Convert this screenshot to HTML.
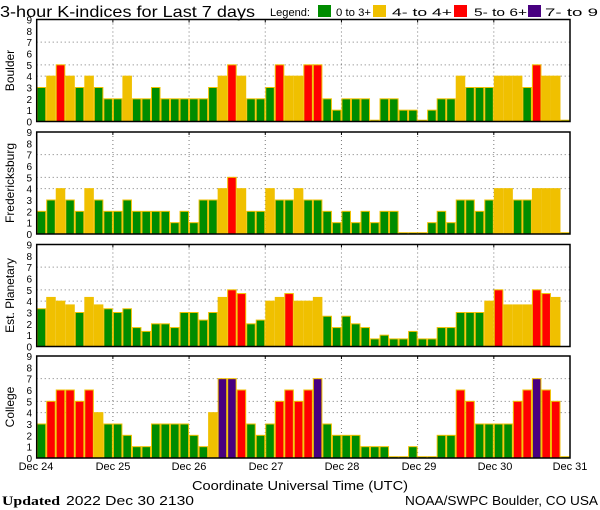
<!DOCTYPE html>
<html><head><meta charset="utf-8"><style>
html,body{margin:0;padding:0;background:#fff;}
svg{display:block;font-family:"Liberation Sans",sans-serif;}
</style></head><body>
<svg id="s" width="600" height="510" xmlns="http://www.w3.org/2000/svg">
<text x="0" y="17" font-size="16" textLength="255" lengthAdjust="spacingAndGlyphs">3-hour K-indices for Last 7 days</text>
<text x="270" y="16" font-size="11" textLength="40" lengthAdjust="spacingAndGlyphs">Legend:</text>
<rect x="318" y="5" width="13" height="12" fill="#008c00"/>
<text x="336" y="16" font-size="11" textLength="35" lengthAdjust="spacingAndGlyphs">0 to 3+</text>
<rect x="373" y="5" width="13" height="12" fill="#f0c000"/>
<text x="392" y="16" font-size="11" textLength="60" lengthAdjust="spacingAndGlyphs">4- to 4+</text>
<rect x="454" y="5" width="13" height="12" fill="#ff0000"/>
<text x="474" y="16" font-size="11" textLength="53" lengthAdjust="spacingAndGlyphs">5- to 6+</text>
<rect x="528" y="5" width="13" height="12" fill="#480080"/>
<text x="545" y="16" font-size="11" textLength="53" lengthAdjust="spacingAndGlyphs">7- to 9</text>
<g id="g"></g>
<g font-size="11" text-anchor="middle">
<text x="36" y="470">Dec 24</text><text x="113" y="470">Dec 25</text><text x="189" y="470">Dec 26</text>
<text x="266" y="470">Dec 27</text><text x="342" y="470">Dec 28</text><text x="419" y="470">Dec 29</text>
<text x="495" y="470">Dec 30</text><text x="570" y="470">Dec 31</text>
<text x="300" y="490" font-size="13" textLength="216" lengthAdjust="spacingAndGlyphs">Coordinate Universal Time (UTC)</text>
</g>
<text x="2" y="505" font-size="13" font-family="Liberation Serif,serif" font-weight="bold" textLength="58" lengthAdjust="spacingAndGlyphs">Updated</text>
<text x="66" y="505" font-size="13" textLength="128" lengthAdjust="spacingAndGlyphs">2022 Dec 30 2130</text>
<text x="405" y="505" font-size="13" textLength="193" lengthAdjust="spacingAndGlyphs">NOAA/SWPC Boulder, CO USA</text>
</svg>
<script>
var P=[
{n:"Boulder",t:19.5,v:[3,4,5,4,3,4,3,2, 2,4,2,2,3,2,2,2, 2,2,3,4,5,4,2,2, 3,5,4,4,5,5,2,1, 2,2,2,0,2,2,1,1, 0,1,2,2,4,3,3,3, 4,4,4,3,5,4,4,0]},
{n:"Fredericksburg",t:132,v:[2,3,4,3,2,4,3,2, 2,3,2,2,2,2,1,2, 1,3,3,4,5,4,2,2, 4,3,3,4,3,3,2,1, 2,1,2,1,2,2,0,0, 0,1,2,1,3,3,2,3, 4,4,3,3,4,4,4,0]},
{n:"Est. Planetary",t:244.5,v:[3.33,4.33,4,3.67,3,4.33,3.67,3.33, 3,3.33,1.67,1.33,2,2,1.67,3, 3,2.33,3,4.33,5,4.67,2,2.33, 4,4.33,4.67,4,4,4.33,2.67,1.67, 2.67,2,1.67,0.67,1,0.67,0.67,1.33, 0.67,0.67,1.67,1.67,3,3,3,4, 5,3.67,3.67,3.67,5,4.67,4.33,null]},
{n:"College",t:356,v:[3,5,6,6,5,6,4,3, 3,2,1,1,3,3,3,3, 2,1,4,7,7,6,3,2, 3,5,6,5,6,7,3,2, 2,2,1,1,1,0,0,1, 0,0,2,2,6,5,3,3, 3,3,5,6,7,6,5,0]}];
var H=102,L=36.7,R=570,bw=(R-L)/56,u=H/9,s="";
function col(v){return v<3.5?"#008c00":v<4.5?"#f0c000":v<6.5?"#ff0000":"#480080";}
P.forEach(function(p){
 var t=p.t,b=t+H;
 [4,5,7].forEach(function(k){var y=b-k*u;s+='<line x1="'+L+'" x2="'+R+'" y1="'+y+'" y2="'+y+'" stroke="#777" stroke-dasharray="1,3"/>';});
 for(var d=1;d<7;d++){var x=L+d*8*bw;s+='<line x1="'+x+'" x2="'+x+'" y1="'+t+'" y2="'+b+'" stroke="#777" stroke-dasharray="1,3"/>';}
 p.v.forEach(function(v,i){if(v===null)return;var h=v==0?1.3:v*u;var x=L+i*bw;
  s+='<rect x="'+(x+0.5)+'" y="'+(b-h)+'" width="'+(bw-1)+'" height="'+h+'" fill="'+col(v)+'" stroke="#f0c000" stroke-width="1"/>';});
 s+='<rect x="'+L+'" y="'+t+'" width="'+(R-L)+'" height="'+H+'" fill="none" stroke="#000" stroke-width="1.5"/>';
 for(var d=1;d<7;d++){var x=L+d*8*bw;s+='<line x1="'+x+'" x2="'+x+'" y1="'+t+'" y2="'+(t+3)+'" stroke="#000"/>';}
 for(var k=0;k<=9;k++){s+='<text x="32" y="'+(b-k*u+4)+'" font-size="10" text-anchor="end">'+k+'</text>';}
 var cy=t+H/2;
 s+='<text x="14" y="'+cy+'" font-size="12" text-anchor="middle" transform="rotate(-90 14 '+cy+')">'+p.n+'</text>';
});
document.getElementById("g").innerHTML=s;
</script>
</body></html>
